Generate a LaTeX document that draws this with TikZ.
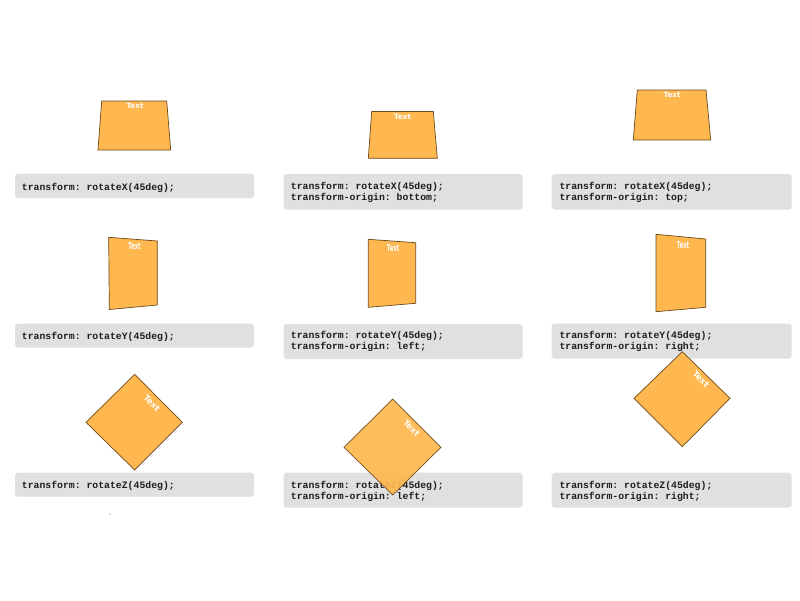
\documentclass[tikz,border=0pt]{standalone}
\usepackage{fontspec}
\setmonofont{Liberation Mono}
\newfontfamily\shapefont{DejaVu Sans}
\begin{document}
\begin{tikzpicture}[x=1pt,y=-1pt,
  card/.style={draw=cardline,line width=0.7pt,fill=cardfill,line join=miter},
  codebox/.style={fill=boxgray,rounded corners=3pt},
  code/.style={anchor=base west,inner sep=0pt,text=codeink,font=\ttfamily\bfseries\fontsize{9.8}{11}\selectfont},
  lbl/.style={text=white,inner sep=0pt,font=\shapefont\bfseries\fontsize{7.2}{8}\selectfont},
  lblz/.style={lbl,rotate=-45,font=\shapefont\bfseries\fontsize{8.3}{9}\selectfont}]
\definecolor{cardfill}{HTML}{FFB74F}
\definecolor{cardline}{HTML}{6B4A1C}
\definecolor{boxgray}{HTML}{E0E0E0}
\definecolor{codeink}{HTML}{1E1E1E}
\useasboundingbox (0,0) rectangle (800,600);
\fill[white] (0,0) rectangle (800,600);
% ---------- code boxes ----------
\fill[codebox] (15,173.5) rectangle (254,198);
\fill[codebox] (283.5,174) rectangle (522.5,209.5);
\fill[codebox] (551.7,174) rectangle (791.7,209.5);
\fill[codebox] (15,323.5) rectangle (254,347.5);
\fill[codebox] (283.5,324) rectangle (522.5,359);
\fill[codebox] (551.7,323.5) rectangle (791.7,358.5);
\fill[codebox] (15,472.7) rectangle (254,496.7);
\fill[codebox] (283.5,472.7) rectangle (522.5,507.5);
\fill[codebox] (551.7,472.7) rectangle (791.7,507.5);
% ---------- code texts ----------
\node[code] (c1) at (21.7,190) {transform: rotateX(45deg);};
\node[code] (c2a) at (290.7,189.5) {transform: rotateX(45deg);};
\node[code] (c2b) at (290.7,200.5) {transform-origin: bottom;};
\node[code] (c3a) at (559.3,189.5) {transform: rotateX(45deg);};
\node[code] (c3b) at (559.3,200.5) {transform-origin: top;};
\node[code] (c4) at (21.7,339) {transform: rotateY(45deg);};
\node[code] (c5a) at (290.7,338.5) {transform: rotateY(45deg);};
\node[code] (c5b) at (290.7,349.5) {transform-origin: left;};
\node[code] (c6a) at (559.3,338.5) {transform: rotateY(45deg);};
\node[code] (c6b) at (559.3,349.5) {transform-origin: right;};
\node[code] (c7) at (21.7,488.5) {transform: rotateZ(45deg);};
\node[code] (c8a) at (290.7,488.5) {transform: rotateZ(45deg);};
\node[code] (c8b) at (290.7,499.5) {transform-origin: left;};
\node[code] (c9a) at (559.3,488.5) {transform: rotateZ(45deg);};
\node[code] (c9b) at (559.3,499.5) {transform-origin: right;};
% ---------- rotateX ----------
\draw[card] (101.7,101) -- (166.7,101) -- (170.7,150) -- (98,150) -- cycle;
\node[lbl] (t1) at (135,106) {Text};
\draw[card] (371.7,111.5) -- (433.3,111.5) -- (437.3,158.3) -- (368.3,158.3) -- cycle;
\node[lbl] (t2) at (402.5,116.5) {Text};
\draw[card] (637.3,90) -- (706,90) -- (710.7,140) -- (633.3,140) -- cycle;
\node[lbl] (t3) at (672,95) {Text};
% ---------- rotateY ----------
\draw[card] (108.7,237.3) -- (157.3,241) -- (157.3,305) -- (109.3,309.5) -- cycle;
\node[lbl,xscale=0.72,yscale=1.3] (t4) at (134.5,246.5) {Text};
\draw[card] (368.3,239.3) -- (415.7,242.7) -- (415.7,303.3) -- (368.3,307.3) -- cycle;
\node[lbl,xscale=0.72,yscale=1.3] (t5) at (393,248) {Text};
\draw[card] (656,234.3) -- (705.7,239) -- (705.7,307.3) -- (656,311.7) -- cycle;
\node[lbl,xscale=0.72,yscale=1.3] (t6) at (683,245) {Text};
% ---------- rotateZ ----------
\draw[card] (134.7,374.3) -- (182.3,422.3) -- (134.7,470) -- (86,422.3) -- cycle;
\node[lblz] (t7) at (152,403.5) {Text};
\draw[card,opacity=0.93] (392.7,399) -- (441,447.3) -- (392.7,495) -- (344,447.3) -- cycle;
\node[lblz] (t8) at (411.5,428.3) {Text};
\draw[card] (682.3,351.7) -- (730,398.3) -- (682.3,446.7) -- (634,398.3) -- cycle;
\node[lblz] (t9) at (701,379.3) {Text};
% small dot
\fill[gray] (110,514) circle (0.6);
\end{tikzpicture}
\end{document}
